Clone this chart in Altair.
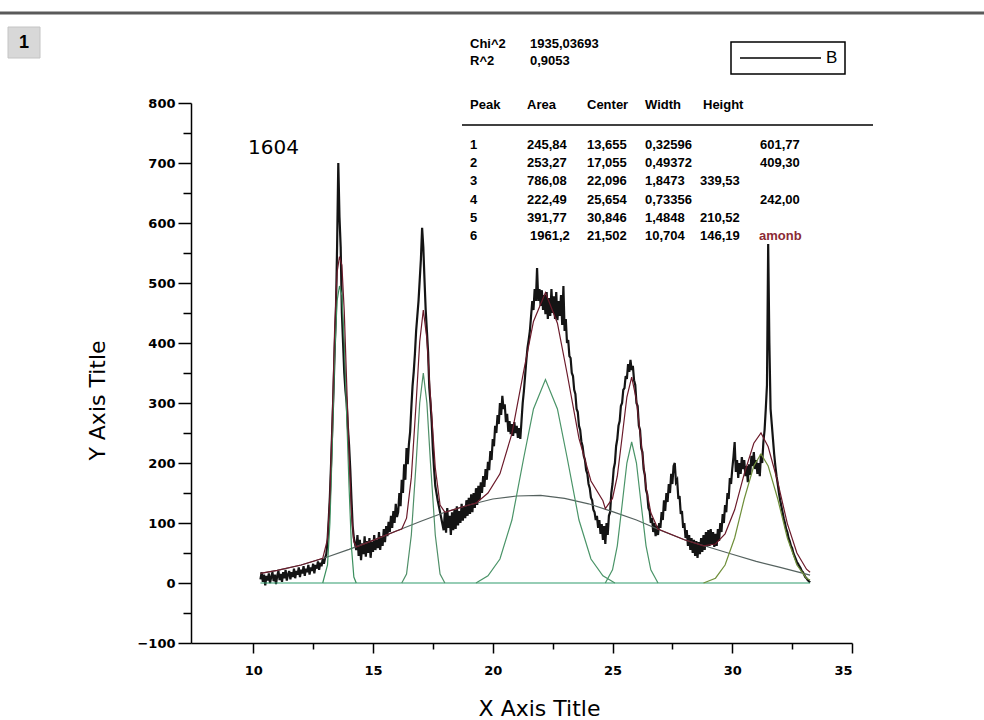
import altair as alt
import pandas as pd

# ---------------- measured spectrum (black trace), segments on a regular x grid
seg_start = [10.3, 13.05, 14.35, 16.05, 17.95, 19.55, 21.55, 24.05, 27.05, 30.05]
seg_step = [0.05, 0.05, 0.05, 0.05, 0.05, 0.05, 0.05, 0.05, 0.05, 0.05]
seg_vals = [
    [6, 18, 2, 14, -4, 12, 4, 16, 0, 10, 18, 3, 14, -2, 12, 20, 5, 15, 2, 18,
     8, 22, 4, 14, 20, 6, 18, 10, 24, 8, 20, 14, 26, 10, 22, 16, 28, 12, 24, 18,
     30, 14, 26, 20, 32, 16, 30, 24, 36, 22, 34, 28, 40, 32, 42],
    [48, 70, 105, 145, 200, 260, 320, 390, 450, 560, 700, 610, 560, 450, 400, 350, 320, 300, 260, 230,
     190, 140, 95, 75, 65, 55],
    [80, 45, 72, 38, 66, 48, 78, 44, 70, 50, 75, 42, 68, 52, 80, 55, 72, 58, 85, 55,
     78, 62, 90, 68, 95, 78, 102, 85, 112, 92, 120, 100, 132, 110],
    [118, 150, 128, 172, 150, 198, 172, 225, 198, 232, 252, 292, 328, 352, 382, 420, 445, 470, 505, 540,
     592, 560, 505, 455, 420, 385, 325, 300, 268, 222, 190, 162, 150, 138, 128, 118, 108, 98],
    [88, 118, 84, 125, 92, 112, 80, 118, 88, 122, 90, 128, 96, 120, 100, 132, 104, 128, 108, 138,
     112, 142, 115, 148, 118, 150, 125, 158, 130, 162, 138, 168],
    [150, 178, 160, 190, 172, 202, 188, 220, 205, 240, 228, 262, 250, 280, 265, 300, 280, 312, 290, 298,
     268, 282, 252, 270, 248, 265, 245, 268, 250, 262, 242, 258, 240, 270, 300, 320, 345, 370, 392, 405],
    [420, 445, 470, 455, 490, 470, 525, 470, 490, 462, 488, 455, 480, 448, 485, 440, 475, 445, 490, 450,
     478, 440, 485, 438, 470, 445, 480, 430, 495, 420, 440, 400, 405, 378, 375, 350, 345, 322, 315, 290,
     285, 262, 255, 236, 228, 212, 205, 188, 182, 165],
    [158, 142, 138, 122, 118, 105, 112, 92, 105, 82, 98, 72, 95, 65, 100, 80, 112, 118, 150, 165,
     190, 200, 228, 240, 262, 270, 295, 300, 322, 325, 345, 340, 365, 352, 372, 355, 362, 338, 330, 300,
     295, 262, 255, 225, 218, 190, 180, 155, 148, 125, 120, 100, 108, 85, 100, 78, 95, 80, 100, 92],
    [118, 105, 138, 120, 150, 135, 165, 150, 182, 165, 195, 200, 168, 172, 140, 145, 115, 120, 92, 100,
     75, 88, 62, 80, 55, 75, 50, 72, 45, 70, 42, 68, 48, 75, 52, 80, 55, 85, 60, 88,
     62, 90, 65, 85, 60, 82, 62, 90, 70, 100, 85, 115, 100, 130, 118, 150, 140, 175, 165, 190],
    [210, 235, 185, 205, 175, 200, 182, 210, 190, 205, 178, 195, 168, 198, 180, 212, 195, 218, 190, 205,
     182, 200, 178, 215, 200, 235, 255, 290, 330, 565, 400, 290, 265, 240, 215, 195, 178, 165, 150, 138,
     128, 118, 108, 100, 90, 85, 75, 70, 62, 58, 50, 45, 40, 35, 32, 28, 25, 20, 18, 14,
     10, 8, 5, 3, 1],
]

# ---------------- fitted components
bg_x = [10.3, 11, 12, 13, 14, 15, 16, 17, 18, 19, 20, 21, 22, 23, 24, 25, 26, 27, 28, 29, 30, 31, 32, 33.25]
bg_y = [16, 21, 30, 42, 56, 71, 87, 103, 118, 130, 140, 145, 146, 141, 132, 119, 105, 88, 72, 60, 48, 36, 26, 13]

p1_x = [12.9, 13.1, 13.2, 13.3, 13.4, 13.5, 13.6, 13.7, 13.8, 13.9, 14.0, 14.1, 14.2, 14.3]
p1_y = [0, 30, 100, 230, 380, 470, 495, 480, 400, 280, 160, 60, 10, 0]
p2_x = [16.2, 16.4, 16.6, 16.8, 16.95, 17.1, 17.25, 17.4, 17.6, 17.8, 18.0]
p2_y = [0, 15, 80, 200, 300, 350, 300, 200, 80, 15, 0]
p3_x = [19.3, 19.8, 20.3, 20.8, 21.3, 21.7, 22.2, 22.7, 23.1, 23.6, 24.1, 24.6, 25.1]
p3_y = [0, 12, 40, 105, 210, 290, 339, 290, 210, 105, 40, 12, 0]
p4_x = [24.7, 25.0, 25.2, 25.4, 25.6, 25.8, 26.0, 26.2, 26.4, 26.6, 26.9]
p4_y = [0, 22, 62, 130, 200, 235, 200, 130, 62, 22, 0]
p5_x = [28.8, 29.3, 29.7, 30.1, 30.5, 30.9, 31.2, 31.5, 31.9, 32.3, 32.7, 33.1, 33.25]
p5_y = [0, 8, 30, 75, 140, 195, 215, 195, 140, 75, 30, 8, 5]
base_x = [10.3, 33.25]
base_y = [0, 0]

fit_x = [10.3, 11, 12, 12.9, 13.1, 13.2, 13.3, 13.4, 13.5, 13.6, 13.7, 13.8, 13.9, 14.0, 14.1, 14.2, 14.3,
         15.0, 16.0, 16.2, 16.4, 16.6, 16.8, 16.95, 17.1, 17.25, 17.4, 17.6, 17.8, 18.0, 19.0, 19.3,
         19.8, 20.3, 20.8, 21.3, 21.7, 22.2, 22.7, 23.1, 23.6, 24.1, 24.6, 24.7, 25.0, 25.2, 25.4,
         25.6, 25.8, 26.0, 26.2, 26.4, 26.6, 26.9, 28.0, 28.8, 29.3, 29.7, 30.1, 30.5, 30.9, 31.2,
         31.5, 31.9, 32.3, 32.7, 33.1, 33.25]
fit_y = [16, 21, 30, 41, 73, 144, 275, 427, 518, 544, 530, 452, 333, 216, 117, 69, 60,
         71, 87, 90, 108, 176, 300, 402, 455, 407, 309, 192, 130, 118, 130, 133,
         150, 182, 249, 355, 436, 484, 433, 350, 241, 170, 137, 124, 141, 178, 243,
         310, 343, 305, 232, 160, 117, 90, 72, 62, 65, 82, 122, 182, 233, 250,
         227, 168, 99, 50, 23, 18]

# ---------------- annotation table text
stat_labels = ["Chi^2", "1935,03693", "R^2", "0,9053"]
header_labels = ["Peak", "Area", "Center", "Width", "Height"]
peak_ids = ["1", "2", "3", "4", "5", "6"]
peak_area = ["245,84", "253,27", "786,08", "222,49", "391,77", "1961,2"]
peak_center = ["13,655", "17,055", "22,096", "25,654", "30,846", "21,502"]
peak_width = ["0,32596", "0,49372", "1,8473", "0,73356", "1,4848", "10,704"]
peak_height = ["601,77", "409,30", "339,53", "242,00", "210,52", "146,19"]
height_far = [True, True, False, True, False, False]

# ---------------- geometry helpers (pixel -> data, plot area 191..852 x 103..643)
XMIN, XMAX, YMIN, YMAX = 7.4, 35.0, -100.0, 800.0
L, T, W, H = 191, 103, 661, 540


def px(v):
    return XMIN + (v - L) * (XMAX - XMIN) / W


def py(v):
    return YMAX - (v - T) * (YMAX - YMIN) / H


# ---------------- build tables
xs, ys = [], []
for s, st, vals in zip(seg_start, seg_step, seg_vals):
    for i, v in enumerate(vals):
        xs.append(round(s + i * st, 3))
        ys.append(v)
data_df = pd.DataFrame({"x": xs, "y": ys})

comp_rows = []
for name, cx, cy in [("bg", bg_x, bg_y), ("base", base_x, base_y), ("p1", p1_x, p1_y),
                     ("p2", p2_x, p2_y), ("p3", p3_x, p3_y), ("p4", p4_x, p4_y), ("p5", p5_x, p5_y)]:
    for a, b in zip(cx, cy):
        comp_rows.append({"x": a, "y": b, "curve": name})
comp_df = pd.DataFrame(comp_rows)
fit_df = pd.DataFrame({"x": fit_x, "y": fit_y})

txt = []
txt += [{"x": px(470), "y": py(44), "t": stat_labels[0]}, {"x": px(530), "y": py(44), "t": stat_labels[1]},
        {"x": px(470), "y": py(61), "t": stat_labels[2]}, {"x": px(530), "y": py(61), "t": stat_labels[3]}]
for lab, xx in zip(header_labels, [470, 527, 587, 645, 703]):
    txt.append({"x": px(xx), "y": py(105), "t": lab})
row_y = [145, 163, 181, 200, 218, 236]
for i in range(6):
    yy = py(row_y[i])
    txt.append({"x": px(470), "y": yy, "t": peak_ids[i]})
    txt.append({"x": px(530 if i == 5 else 527), "y": yy, "t": peak_area[i]})
    txt.append({"x": px(587), "y": yy, "t": peak_center[i]})
    txt.append({"x": px(645), "y": yy, "t": peak_width[i]})
    txt.append({"x": px(760 if height_far[i] else 700), "y": yy, "t": peak_height[i]})
txt_df = pd.DataFrame(txt)
red_df = pd.DataFrame([{"x": px(759), "y": py(236), "t": "amonb"}])
big_df = pd.DataFrame([{"x": px(248), "y": py(148), "t": "1604"}])
b_df = pd.DataFrame([{"x": px(826), "y": py(58), "t": "B"}])
one_df = pd.DataFrame([{"x": px(24), "y": py(43), "t": "1"}])

rule_df = pd.DataFrame([
    {"x": px(462), "x2": px(873), "y": py(125), "y2": py(125), "k": "tab"},
    {"x": px(740), "x2": px(821), "y": py(58), "y2": py(58), "k": "leg"},
])
top_df = pd.DataFrame([{"x": px(0), "x2": px(984), "y": py(13), "y2": py(13)}])
box_df = pd.DataFrame([{"x": px(731), "x2": px(845), "y": py(42), "y2": py(74)}])
onebox_df = pd.DataFrame([{"x": px(8), "x2": px(40), "y": py(27), "y2": py(58)}])

# ---------------- encodings
FONT = "Liberation Sans"
WIDE = "DejaVu Sans"
x_axis = alt.Axis(values=[10, 12.5, 15, 17.5, 20, 22.5, 25, 27.5, 30, 32.5, 35],
                  labelExpr="datum.value % 5 === 0 ? datum.label : ''",
                  tickSize={"condition": {"test": "datum.value % 5 === 0", "value": 10}, "value": 6},
                  grid=False, domainColor="black", tickColor="black", domainWidth=1.5, tickWidth=1.5,
                  labelFont=WIDE, labelFontWeight="bold", labelFontSize=13, labelColor="black",
                  labelPadding=11, title="X Axis Title", titleFont=WIDE, titleFontSize=22,
                  titleFontWeight="normal", titleColor="black",
                  titleX=539 - L, titleY=708 - (T + H), titleBaseline="middle", titleAlign="center")
y_axis = alt.Axis(values=list(range(-100, 801, 50)),
                  labelExpr="datum.value % 100 === 0 ? datum.label : ''",
                  tickSize={"condition": {"test": "datum.value % 100 === 0", "value": 13}, "value": 8},
                  grid=False, domainColor="black", tickColor="black", domainWidth=1.5, tickWidth=1.5,
                  labelFont=WIDE, labelFontWeight="bold", labelFontSize=13, labelColor="black",
                  labelPadding=3, title="Y Axis Title", titleFont=WIDE, titleFontSize=22,
                  titleFontWeight="normal", titleColor="black",
                  titleX=97 - L, titleY=400 - T, titleBaseline="middle", titleAlign="center",
                  titleAngle=270)

X = alt.X("x:Q", scale=alt.Scale(domain=[XMIN, XMAX], nice=False, zero=False), axis=x_axis)
Y = alt.Y("y:Q", scale=alt.Scale(domain=[YMIN, YMAX], nice=False, zero=False), axis=y_axis)

data_layer = alt.Chart(data_df).mark_line(color="#141414", strokeWidth=2.2, clip=True).encode(x=X, y=Y)
comp_layer = alt.Chart(comp_df).mark_line(strokeWidth=1.2, clip=True).encode(
    x=X, y=Y, detail="curve:N",
    color=alt.Color("curve:N", legend=None,
                    scale=alt.Scale(domain=["bg", "base", "p1", "p2", "p3", "p4", "p5"],
                                    range=["#55625f", "#2f9c6c", "#3b8f5e", "#4f8f68", "#4a9468",
                                           "#4a9468", "#6f8f3a"])))
fit_layer = alt.Chart(fit_df).mark_line(color="#6b1a2a", strokeWidth=1.2, clip=True).encode(x=X, y=Y)

tab_text = alt.Chart(txt_df).mark_text(align="left", baseline="middle", font=FONT, fontWeight="bold",
                                       fontSize=13, color="black").encode(x=X, y=Y, text="t:N")
red_text = alt.Chart(red_df).mark_text(align="left", baseline="middle", font=FONT, fontWeight="bold",
                                       fontSize=13, color="#8b2a35").encode(x=X, y=Y, text="t:N")
big_text = alt.Chart(big_df).mark_text(align="left", baseline="middle", font=WIDE, fontSize=20,
                                       color="black").encode(x=X, y=Y, text="t:N")
b_text = alt.Chart(b_df).mark_text(align="left", baseline="middle", font=FONT, fontSize=17,
                                   color="black").encode(x=X, y=Y, text="t:N")
one_box = alt.Chart(onebox_df).mark_rect(fill="#d8d8d8", stroke="#c4c4c4").encode(
    x=X, x2="x2:Q", y=Y, y2="y2:Q")
one_text = alt.Chart(one_df).mark_text(align="center", baseline="middle", font=FONT, fontWeight="bold",
                                       fontSize=18, color="black").encode(x=X, y=Y, text="t:N")
rules = alt.Chart(rule_df).mark_rule(color="black", strokeWidth=1.3).encode(x=X, x2="x2:Q", y=Y, y2="y2:Q")
top_rule = alt.Chart(top_df).mark_rule(color="#5a5a5a", strokeWidth=3).encode(x=X, x2="x2:Q", y=Y, y2="y2:Q")
leg_box = alt.Chart(box_df).mark_rect(fill="white", fillOpacity=0, stroke="black", strokeWidth=1.5).encode(
    x=X, x2="x2:Q", y=Y, y2="y2:Q")

chart = alt.layer(
    data_layer, comp_layer, fit_layer,
    top_rule, one_box, one_text, tab_text, red_text, big_text, rules, leg_box, b_text,
).properties(
    width=W, height=H,
    padding={"left": L, "top": T, "right": 984 - L - W, "bottom": 720 - T - H},
    autosize=alt.AutoSizeParams(type="none"),
    background="white",
).configure_view(stroke=None)

chart.save("out.html", embed_options={"renderer": "svg", "actions": False})
